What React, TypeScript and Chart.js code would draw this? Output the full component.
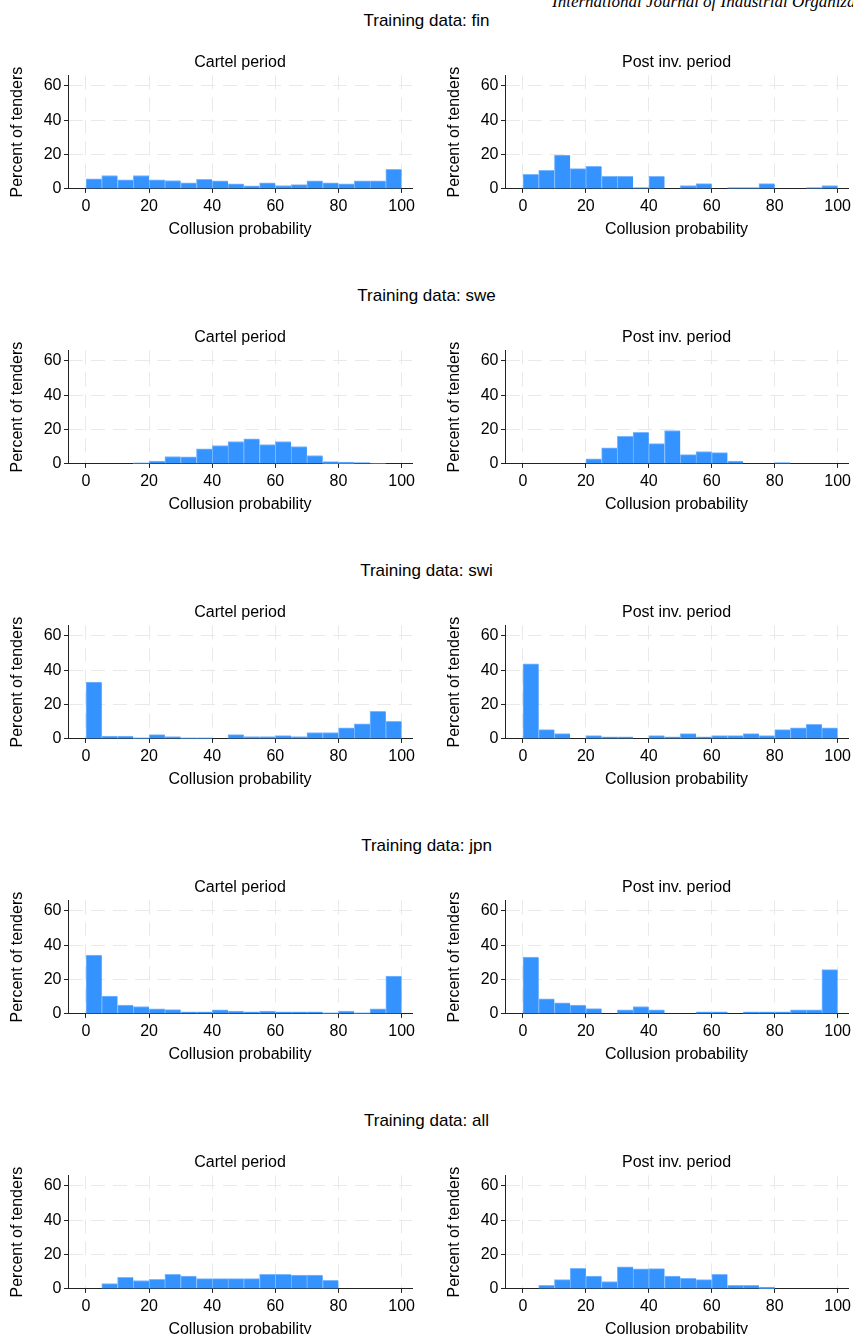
import React, { useEffect, useRef } from "react";
import { Chart, registerables } from "chart.js";

Chart.register(...registerables);

const FONT = '"Liberation Sans", Arial, Helvetica, sans-serif';
Chart.defaults.font.family = FONT;
Chart.defaults.color = "#000";

// ---- data ----
const binCenters = [2.5, 7.5, 12.5, 17.5, 22.5, 27.5, 32.5, 37.5, 42.5, 47.5, 52.5, 57.5, 62.5, 67.5, 72.5, 77.5, 82.5, 87.5, 92.5, 97.5];
const xTicks = [0, 20, 40, 60, 80, 100];
const yTicks = [0, 20, 40, 60];
const trainingSets = ["fin", "swe", "swi", "jpn", "all"];
const periods = ["Cartel period", "Post inv. period"];

const finCartel = [5.9, 7.8, 5.3, 7.8, 5.3, 4.9, 3.5, 5.5, 4.7, 2.9, 1.8, 3.5, 2.0, 2.5, 4.7, 3.5, 2.9, 4.7, 4.7, 11.4];
const finPost = [8.4, 10.8, 19.6, 11.8, 13.1, 7.3, 7.3, 0.8, 7.3, 0, 2.0, 3.1, 0, 0.8, 0.8, 3.1, 0, 0, 0.8, 2.0];
const sweCartel = [0, 0, 0, 0.6, 1.7, 4.3, 4.1, 8.7, 10.7, 13.0, 14.6, 11.3, 13.0, 10.1, 4.9, 1.4, 1.0, 0.8, 0.4, 0];
const swePost = [0, 0, 0, 0, 2.9, 9.3, 16.0, 18.3, 11.8, 19.4, 5.4, 7.2, 6.6, 1.7, 0, 0, 0.8, 0, 0, 0];
const swiCartel = [33.1, 1.7, 1.7, 0.6, 2.5, 1.3, 0.6, 0.6, 0.2, 2.5, 1.3, 1.3, 1.9, 1.3, 3.7, 3.7, 6.5, 8.8, 16.0, 10.2];
const swiPost = [43.7, 5.4, 3.1, 0, 1.9, 1.2, 1.2, 0, 1.9, 1.2, 3.1, 1.2, 1.9, 1.9, 3.1, 1.9, 5.4, 6.5, 8.5, 6.5];
const jpnCartel = [34.2, 10.4, 5.2, 4.3, 2.9, 2.5, 1.2, 1.2, 2.3, 1.7, 1.2, 1.7, 1.2, 1.2, 1.2, 0.6, 1.7, 0.6, 2.9, 22.0];
const jpnPost = [33.1, 8.7, 6.4, 5.2, 3.1, 0, 2.3, 4.3, 2.3, 0, 0, 1.2, 1.2, 0, 1.2, 1.2, 1.2, 2.3, 2.3, 25.7];
const allCartel = [0, 3.1, 6.8, 4.9, 5.6, 8.5, 7.4, 6.0, 6.0, 6.0, 6.0, 8.5, 8.5, 8.0, 8.0, 5.0, 0.2, 0, 0, 0];
const allPost = [0, 2.1, 5.4, 12.0, 7.4, 4.3, 12.8, 11.7, 11.8, 7.4, 6.2, 5.4, 8.5, 2.1, 2.1, 1.0, 0, 0, 0, 0];

const seriesByRow = [
  [finCartel, finPost],
  [sweCartel, swePost],
  [swiCartel, swiPost],
  [jpnCartel, jpnPost],
  [allCartel, allPost],
];

// ---- layout / style ----
const ROW_STEP = 275;
const CANVAS_TOP = 45;
const CANVAS_H = 200;
const BAR_COLOR = "#3593ff";
const BAR_EDGE = "#7ab8ff";
const AXIS_COLOR = "#222";
const GRID_COLOR = "#e9e9e9";

type PanelProps = {
  values: number[];
  title: string;
  left: number;
  top: number;
  width: number;
  rightPad: number;
  yAxisWidth: number;
};

function Panel({ values, title, left, top, width, rightPad, yAxisWidth }: PanelProps) {
  const ref = useRef<HTMLCanvasElement>(null);
  useEffect(() => {
    if (!ref.current) return;
    const zeroPad = (s: any) => {
      s.paddingLeft = 0;
      s.paddingRight = 0;
      s.paddingTop = 0;
      s.paddingBottom = 0;
    };
    const chart = new Chart(ref.current, {
      type: "bar",
      data: {
        datasets: [
          {
            data: binCenters.map((x, i) => ({ x, y: values[i] })),
            backgroundColor: BAR_COLOR,
            borderColor: BAR_EDGE,
            borderWidth: { top: 1, left: 1, right: 0, bottom: 0 },
            barPercentage: 1,
            categoryPercentage: 1,
          } as any,
        ],
      },
      options: {
        responsive: false,
        animation: false,
        devicePixelRatio: 1,
        events: [],
        layout: { padding: { left: 0, top: 0, right: rightPad, bottom: 0 } },
        plugins: {
          legend: { display: false },
          tooltip: { enabled: false },
          title: {
            display: true,
            text: title,
            fullSize: false,
            color: "#000",
            font: { family: FONT, size: 16, weight: "normal", lineHeight: 1.2 },
            padding: { top: 8.2, bottom: 3 },
          },
        },
        scales: {
          x: {
            type: "linear",
            min: -5.7,
            max: 103.3,
            offset: false,
            afterBuildTicks: (s: any) => {
              s.ticks = xTicks.map((v) => ({ value: v }));
            },
            afterFit: (s: any) => {
              s.height = 56.1;
              zeroPad(s);
            },
            grid: {
              display: true,
              offset: false,
              color: GRID_COLOR,
              lineWidth: 1,
              drawTicks: true,
              tickLength: 4,
              tickColor: AXIS_COLOR,
              tickWidth: 1,
            },
            border: { display: true, color: AXIS_COLOR, width: 1, dash: [14, 8] },
            ticks: {
              autoSkip: false,
              maxRotation: 0,
              padding: 4.5,
              color: "#000",
              font: { family: FONT, size: 16, lineHeight: 1.2 },
            },
            title: {
              display: true,
              text: "Collusion probability",
              color: "#000",
              font: { family: FONT, size: 16, lineHeight: 1.2 },
              padding: { top: 0, bottom: 6 },
            },
          },
          y: {
            type: "linear",
            min: 0,
            max: 66,
            afterBuildTicks: (s: any) => {
              s.ticks = yTicks.map((v) => ({ value: v }));
            },
            afterFit: (s: any) => {
              s.width = yAxisWidth;
              zeroPad(s);
            },
            grid: {
              display: true,
              color: GRID_COLOR,
              lineWidth: 1,
              drawTicks: true,
              tickLength: 4,
              tickColor: AXIS_COLOR,
              tickWidth: 1,
            },
            border: { display: true, color: AXIS_COLOR, width: 1, dash: [14, 8] },
            ticks: {
              padding: 2.5,
              color: "#000",
              font: { family: FONT, size: 16, lineHeight: 1.2 },
            },
            title: {
              display: true,
              text: "Percent of tenders",
              color: "#000",
              font: { family: FONT, size: 16, lineHeight: 1.2 },
              padding: { top: 8.3, bottom: 0 },
            },
          },
        },
      } as any,
    });
    return () => chart.destroy();
  }, [values, title, rightPad, yAxisWidth]);
  return (
    <canvas
      ref={ref}
      width={width}
      height={CANVAS_H}
      style={{ position: "absolute", left, top, width, height: CANVAS_H, display: "block" }}
    />
  );
}

export default function App() {
  return (
    <div
      style={{
        position: "absolute",
        left: 0,
        top: 0,
        width: 853,
        height: 1334,
        overflow: "hidden",
        background: "#fff",
        fontFamily: FONT,
      }}
    >
      <div
        style={{
          position: "absolute",
          left: 552,
          top: -7,
          fontFamily: '"Liberation Serif", "Times New Roman", serif',
          fontStyle: "italic",
          fontSize: 17,
          lineHeight: "17px",
          whiteSpace: "nowrap",
          color: "#000",
        }}
      >
        International Journal of Industrial Organization
      </div>
      {trainingSets.map((set, r) => (
        <React.Fragment key={set}>
          <div
            style={{
              position: "absolute",
              left: 0,
              width: 853,
              top: 11 + r * ROW_STEP,
              height: 20,
              lineHeight: "20px",
              textAlign: "center",
              fontSize: 17,
              color: "#000",
            }}
          >
            {"Training data: " + set}
          </div>
          <Panel
            values={seriesByRow[r][0]}
            title={periods[0]}
            left={0}
            top={CANVAS_TOP + r * ROW_STEP}
            width={420}
            rightPad={8}
            yAxisWidth={68}
          />
          <Panel
            values={seriesByRow[r][1]}
            title={periods[1]}
            left={437}
            top={CANVAS_TOP + r * ROW_STEP}
            width={416}
            rightPad={5}
            yAxisWidth={68}
          />
        </React.Fragment>
      ))}
    </div>
  );
}
